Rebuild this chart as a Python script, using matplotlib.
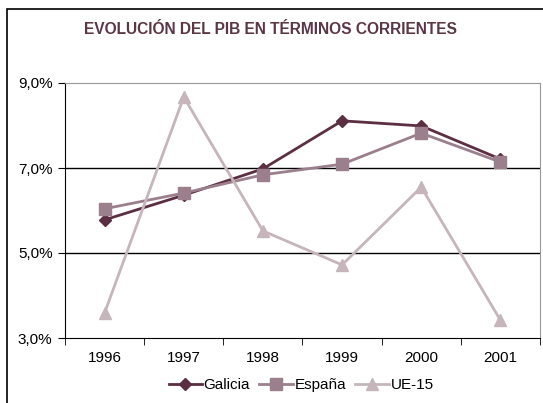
import matplotlib.pyplot as plt
from matplotlib.patches import Rectangle
from matplotlib.ticker import FixedLocator

# data (% growth)
years = ['1996', '1997', '1998', '1999', '2000', '2001']
galicia = [5.78, 6.36, 6.98, 8.11, 7.99, 7.21]
espana = [6.04, 6.41, 6.84, 7.09, 7.82, 7.14]
ue15 = [3.59, 8.67, 5.52, 4.72, 6.55, 3.42]
yticks = [3, 5, 7, 9]

fig = plt.figure(figsize=(5.43, 4.03), dpi=100)
plt.rcParams['font.family'] = ['Liberation Sans', 'DejaVu Sans']

# outer chart frame
fig.patches.append(Rectangle((7 / 543, -0.05), 1.0, 1 - 9 / 403 + 0.05,
                             transform=fig.transFigure, fill=False,
                             edgecolor='black', linewidth=1.2))

ax = fig.add_axes([65 / 543, 1 - 338 / 403, 475 / 543, 255 / 403])
x = list(range(len(years)))

ax.plot(x, galicia, color='#5C2E42', marker='D', markersize=6, linewidth=2,
        label='Galicia')
ax.plot(x, espana, color='#9B7F8C', marker='s', markersize=8, linewidth=2,
        label='España')
ax.plot(x, ue15, color='#C6B5BB', marker='^', markersize=8, linewidth=2,
        label='UE-15')

ax.set_xlim(-0.5, len(years) - 0.5)
ax.set_ylim(3, 9)
ax.set_yticks(yticks)
ax.set_yticklabels([f'{v:.1f}%'.replace('.', ',') for v in yticks], fontsize=11)
ax.set_xticks(x)
ax.set_xticklabels(years, fontsize=11)
ax.tick_params(axis='x', length=0, pad=9)
ax.xaxis.set_minor_locator(FixedLocator([i - 0.5 for i in range(len(years) + 1)]))
ax.tick_params(axis='x', which='minor', length=5, direction='out', color='black')
ax.tick_params(axis='y', length=5, direction='out', color='black', pad=4)

for v in [5, 7]:
    ax.axhline(v, color='black', linewidth=1, zorder=0)

ax.spines['left'].set_color('black')
ax.spines['bottom'].set_color('black')
ax.spines['top'].set_color('#999999')
ax.spines['right'].set_color('#999999')

fig.text(270 / 543, 1 - 30 / 403, 'EVOLUCIÓN DEL PIB EN TÉRMINOS CORRIENTES',
         ha='center', va='center', fontsize=11.2, fontweight='bold',
         color='#5B3746')

fig.legend(loc='center', bbox_to_anchor=(301 / 543, 1 - 385 / 403), ncol=3,
           frameon=False, fontsize=11, handlelength=2.2, handletextpad=0.1,
           columnspacing=0.6)

fig.savefig('out.png', dpi=100)
